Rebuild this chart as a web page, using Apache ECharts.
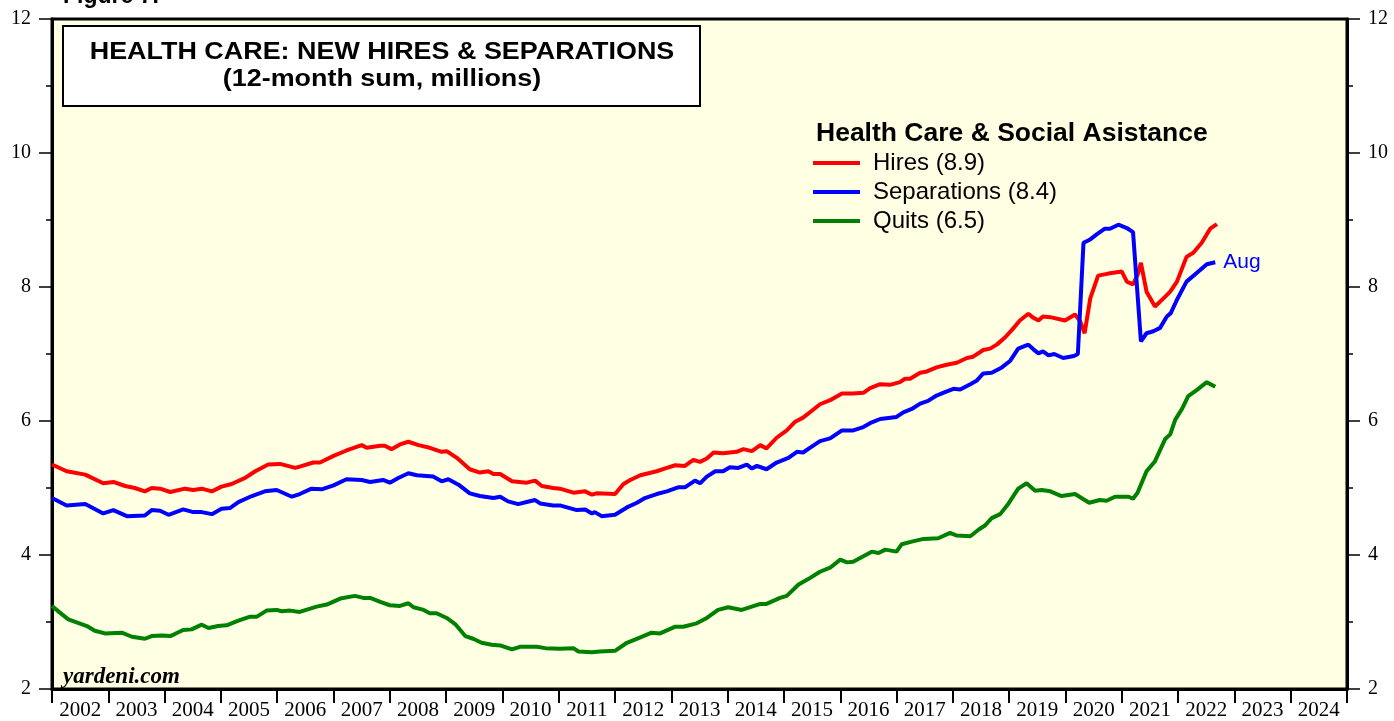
<!DOCTYPE html>
<html>
<head>
<meta charset="utf-8">
<title>Health Care: New Hires & Separations</title>
<script src="https://cdn.jsdelivr.net/npm/echarts@6/dist/echarts.min.js"></script>
<style>
  html, body { margin: 0; padding: 0; background: #fff; }
  #main { width: 1394px; height: 721px; }
</style>
</head>
<body>
<div id="main"></div>
<script>
// year labels on the bottom axis
var years = ['2002','2003','2004','2005','2006','2007','2008','2009','2010','2011','2012',
             '2013','2014','2015','2016','2017','2018','2019','2020','2021','2022','2023','2024'];
var yTicks = [2, 4, 6, 8, 10, 12];

// [decimal year, millions]
var hires = [
  [2002.00,5.35],[2002.26,5.25],[2002.59,5.20],[2002.91,5.07],[2003.09,5.09],[2003.30,5.03],
  [2003.47,5.00],[2003.65,4.95],[2003.77,5.00],[2003.92,4.99],[2004.10,4.94],[2004.36,4.99],
  [2004.51,4.97],[2004.66,4.99],[2004.84,4.95],[2005.01,5.02],[2005.19,5.06],[2005.43,5.15],
  [2005.61,5.25],[2005.84,5.35],[2006.05,5.36],[2006.32,5.30],[2006.40,5.32],[2006.64,5.38],
  [2006.76,5.38],[2007.00,5.48],[2007.23,5.56],[2007.50,5.64],[2007.59,5.60],[2007.83,5.63],
  [2007.91,5.63],[2008.03,5.58],[2008.18,5.65],[2008.33,5.69],[2008.51,5.64],[2008.71,5.60],
  [2008.92,5.54],[2009.01,5.55],[2009.19,5.45],[2009.42,5.28],[2009.60,5.23],[2009.75,5.25],
  [2009.84,5.21],[2009.96,5.21],[2010.17,5.10],[2010.43,5.08],[2010.58,5.11],[2010.70,5.03],
  [2010.90,5.00],[2011.02,4.99],[2011.26,4.93],[2011.47,4.95],[2011.59,4.90],[2011.67,4.92],
  [2012.00,4.91],[2012.15,5.06],[2012.27,5.12],[2012.45,5.19],[2012.74,5.25],[2012.92,5.30],
  [2013.07,5.34],[2013.24,5.33],[2013.39,5.42],[2013.51,5.39],[2013.63,5.44],[2013.75,5.53],
  [2013.92,5.52],[2014.16,5.54],[2014.28,5.58],[2014.43,5.55],[2014.58,5.64],[2014.69,5.59],
  [2014.87,5.75],[2015.05,5.86],[2015.20,5.99],[2015.34,6.05],[2015.49,6.15],[2015.64,6.25],
  [2015.82,6.31],[2016.03,6.41],[2016.23,6.41],[2016.41,6.42],[2016.53,6.49],[2016.71,6.55],
  [2016.88,6.54],[2017.06,6.58],[2017.15,6.63],[2017.24,6.63],[2017.42,6.72],[2017.54,6.74],
  [2017.71,6.80],[2017.89,6.84],[2018.07,6.87],[2018.25,6.94],[2018.36,6.96],[2018.54,7.06],
  [2018.66,7.08],[2018.78,7.14],[2018.93,7.25],[2019.05,7.36],[2019.19,7.50],[2019.34,7.60],
  [2019.43,7.54],[2019.52,7.50],[2019.60,7.56],[2019.73,7.55],[2019.99,7.50],[2020.17,7.59],
  [2020.26,7.49],[2020.34,7.31],[2020.44,7.83],[2020.58,8.17],[2020.76,8.20],[2021.00,8.23],
  [2021.09,8.08],[2021.20,8.04],[2021.28,8.18],[2021.34,8.36],[2021.44,7.93],[2021.59,7.71],
  [2021.74,7.83],[2021.86,7.93],[2021.98,8.08],[2022.15,8.45],[2022.27,8.51],[2022.42,8.66],
  [2022.57,8.87],[2022.69,8.94]
];
var separations = [
  [2002.00,4.85],[2002.26,4.74],[2002.59,4.76],[2002.91,4.62],[2003.09,4.67],[2003.33,4.58],
  [2003.65,4.59],[2003.77,4.67],[2003.92,4.66],[2004.07,4.60],[2004.33,4.68],[2004.51,4.64],
  [2004.66,4.64],[2004.84,4.61],[2005.01,4.69],[2005.16,4.70],[2005.31,4.79],[2005.55,4.88],
  [2005.78,4.95],[2005.99,4.97],[2006.26,4.87],[2006.40,4.91],[2006.61,4.99],[2006.79,4.98],
  [2007.00,5.04],[2007.23,5.13],[2007.50,5.12],[2007.65,5.09],[2007.88,5.12],[2008.00,5.08],
  [2008.15,5.15],[2008.33,5.22],[2008.48,5.19],[2008.77,5.17],[2008.92,5.10],[2009.04,5.13],
  [2009.22,5.05],[2009.42,4.92],[2009.60,4.88],[2009.84,4.85],[2009.96,4.87],[2010.10,4.80],
  [2010.28,4.76],[2010.43,4.79],[2010.58,4.82],[2010.67,4.77],[2010.90,4.74],[2011.02,4.74],
  [2011.32,4.67],[2011.47,4.68],[2011.59,4.62],[2011.64,4.64],[2011.76,4.58],[2012.00,4.60],
  [2012.21,4.71],[2012.39,4.78],[2012.53,4.85],[2012.74,4.91],[2012.92,4.95],[2013.12,5.01],
  [2013.24,5.01],[2013.42,5.11],[2013.51,5.07],[2013.63,5.17],[2013.78,5.25],[2013.92,5.25],
  [2014.04,5.31],[2014.19,5.30],[2014.34,5.35],[2014.43,5.29],[2014.52,5.33],[2014.69,5.28],
  [2014.87,5.38],[2015.08,5.45],[2015.23,5.54],[2015.34,5.53],[2015.46,5.60],[2015.64,5.70],
  [2015.82,5.74],[2016.03,5.86],[2016.23,5.86],[2016.41,5.91],[2016.56,5.98],[2016.71,6.03],
  [2017.00,6.06],[2017.12,6.13],[2017.27,6.18],[2017.42,6.26],[2017.56,6.30],[2017.71,6.38],
  [2017.86,6.43],[2018.01,6.48],[2018.13,6.47],[2018.31,6.55],[2018.42,6.60],[2018.54,6.71],
  [2018.69,6.72],[2018.87,6.80],[2019.02,6.90],[2019.16,7.08],[2019.34,7.14],[2019.43,7.07],
  [2019.52,7.01],[2019.60,7.04],[2019.70,6.98],[2019.80,7.00],[2019.96,6.94],[2020.15,6.97],
  [2020.22,7.00],[2020.32,8.66],[2020.44,8.71],[2020.56,8.79],[2020.70,8.87],[2020.79,8.87],
  [2020.94,8.93],[2021.09,8.88],[2021.20,8.82],[2021.34,7.19],[2021.44,7.31],[2021.56,7.34],
  [2021.68,7.39],[2021.80,7.56],[2021.87,7.61],[2021.98,7.81],[2022.15,8.08],[2022.33,8.21],
  [2022.51,8.34],[2022.66,8.37]
];
var quits = [
  [2002.00,3.24],[2002.14,3.14],[2002.29,3.04],[2002.62,2.94],[2002.76,2.87],[2002.94,2.83],
  [2003.24,2.84],[2003.42,2.78],[2003.65,2.75],[2003.77,2.79],[2003.95,2.80],[2004.10,2.79],
  [2004.18,2.82],[2004.33,2.88],[2004.48,2.89],[2004.66,2.96],[2004.78,2.91],[2004.95,2.94],
  [2005.10,2.95],[2005.31,3.02],[2005.52,3.08],[2005.64,3.08],[2005.81,3.17],[2005.99,3.18],
  [2006.08,3.16],[2006.23,3.17],[2006.40,3.15],[2006.70,3.23],[2006.88,3.26],[2007.12,3.35],
  [2007.38,3.39],[2007.53,3.36],[2007.65,3.36],[2007.83,3.30],[2008.00,3.25],[2008.18,3.24],
  [2008.33,3.28],[2008.42,3.22],[2008.60,3.18],[2008.71,3.13],[2008.83,3.13],[2009.01,3.06],
  [2009.16,2.97],[2009.34,2.79],[2009.48,2.75],[2009.63,2.69],[2009.81,2.66],[2009.96,2.65],
  [2010.17,2.59],[2010.31,2.63],[2010.61,2.63],[2010.76,2.61],[2011.02,2.60],[2011.26,2.61],
  [2011.35,2.56],[2011.59,2.55],[2011.73,2.56],[2012.00,2.57],[2012.21,2.69],[2012.45,2.77],
  [2012.65,2.84],[2012.80,2.83],[2013.07,2.93],[2013.21,2.93],[2013.45,2.98],[2013.63,3.06],
  [2013.83,3.18],[2014.01,3.22],[2014.25,3.18],[2014.58,3.27],[2014.69,3.27],[2014.93,3.36],
  [2015.05,3.39],[2015.26,3.56],[2015.43,3.64],[2015.64,3.75],[2015.82,3.81],[2016.00,3.93],
  [2016.12,3.89],[2016.23,3.90],[2016.41,3.98],[2016.56,4.05],[2016.68,4.03],[2016.80,4.08],
  [2017.00,4.05],[2017.09,4.16],[2017.27,4.20],[2017.48,4.24],[2017.74,4.25],[2017.95,4.33],
  [2018.07,4.29],[2018.31,4.28],[2018.46,4.38],[2018.57,4.44],[2018.69,4.55],[2018.84,4.61],
  [2018.99,4.77],[2019.16,4.99],[2019.31,5.07],[2019.46,4.96],[2019.58,4.97],[2019.73,4.95],
  [2019.93,4.88],[2020.17,4.91],[2020.42,4.78],[2020.61,4.82],[2020.73,4.81],[2020.88,4.87],
  [2021.12,4.87],[2021.20,4.84],[2021.28,4.93],[2021.44,5.25],[2021.59,5.40],[2021.77,5.73],
  [2021.86,5.80],[2021.95,6.02],[2022.07,6.18],[2022.18,6.37],[2022.33,6.46],[2022.51,6.58],
  [2022.66,6.51]
];

var SANS = '"Liberation Sans", Arial, sans-serif';
var SERIF = '"Liberation Serif", "Times New Roman", serif';

var myChart = echarts.init(document.getElementById('main'));

function yAxisCfg(pos) {
  return {
    type: 'value',
    position: pos,
    min: yTicks[0],
    max: yTicks[yTicks.length - 1],
    interval: 2,
    axisLine: { show: true, lineStyle: { color: '#000', width: 3 } },
    axisTick: { show: true, length: 13, lineStyle: { color: '#000', width: 1.5 } },
    minorTick: { show: true, splitNumber: 2, length: 6, lineStyle: { color: '#000', width: 1.5 } },
    splitLine: { show: false },
    axisLabel: { color: '#000', fontFamily: SERIF, fontSize: 20, margin: 21 }
  };
}

function lineSeries(name, data, color) {
  return {
    name: name,
    type: 'line',
    xAxisIndex: 1,
    data: data,
    showSymbol: false,
    symbol: 'none',
    lineStyle: { color: color, width: 4 },
    itemStyle: { color: color },
    z: 3
  };
}

var sep = lineSeries('Separations (8.4)', separations, '#0000FF');
sep.endLabel = { show: true, formatter: 'Aug', color: '#0000FF', fontFamily: SANS, fontSize: 21, distance: 8 };

var option = {
  animation: false,
  backgroundColor: '#fff',
  grid: {
    left: 52, right: 47, top: 19, bottom: 31,
    show: true,
    backgroundColor: '#FFFFE4',
    borderColor: '#000',
    borderWidth: 3
  },
  xAxis: [
    {
      type: 'category',
      data: years,
      boundaryGap: true,
      position: 'bottom',
      axisLine: { show: true, lineStyle: { color: '#000', width: 3 } },
      axisTick: { show: true, length: 14, interval: 0, lineStyle: { color: '#000', width: 2 } },
      axisLabel: { color: '#000', fontFamily: SERIF, fontSize: 21, margin: 11, interval: 0 },
      splitLine: { show: false }
    },
    {
      type: 'value',
      min: 2002,
      max: 2025,
      show: false
    }
  ],
  yAxis: [yAxisCfg('left'), yAxisCfg('right')],
  legend: {
    orient: 'vertical',
    left: 813,
    top: 151,
    padding: 0,
    icon: 'rect',
    itemWidth: 47,
    itemHeight: 4,
    itemGap: 5,
    textStyle: { color: '#000', fontFamily: SANS, fontSize: 24, padding: [0, 0, 0, 8] },
    data: ['Hires (8.9)', 'Separations (8.4)', 'Quits (6.5)']
  },
  graphic: [
    {
      type: 'text', left: 63, top: -15,
      style: { text: 'Figure 7.', font: 'bold 23px ' + SANS, fill: '#000' }
    },
    {
      type: 'rect', shape: { x: 63, y: 26, width: 637, height: 80 },
      style: { fill: '#fff', stroke: '#000', lineWidth: 2 }, z: 10
    },
    {
      type: 'text', x: 382, y: 53, z: 11, scaleX: 1.17,
      style: { text: 'HEALTH CARE: NEW HIRES & SEPARATIONS', font: 'bold 23px ' + SANS,
               fill: '#000', align: 'center', verticalAlign: 'middle' }
    },
    {
      type: 'text', x: 382, y: 80, z: 11, scaleX: 1.17,
      style: { text: '(12-month sum, millions)', font: 'bold 23px ' + SANS,
               fill: '#000', align: 'center', verticalAlign: 'middle' }
    },
    {
      type: 'text', x: 816, y: 134, z: 11, scaleX: 1.06,
      style: { text: 'Health Care & Social Asistance', font: 'bold 25px ' + SANS,
               fill: '#000', align: 'left', verticalAlign: 'middle' }
    },
    {
      type: 'text', x: 63, y: 677, z: 11,
      style: { text: 'yardeni.com', font: 'italic bold 23px ' + SERIF,
               fill: '#000', align: 'left', verticalAlign: 'middle' }
    }
  ],
  series: [
    lineSeries('Hires (8.9)', hires, '#FF0000'),
    sep,
    lineSeries('Quits (6.5)', quits, '#008000')
  ]
};

myChart.setOption(option);
</script>
</body>
</html>
